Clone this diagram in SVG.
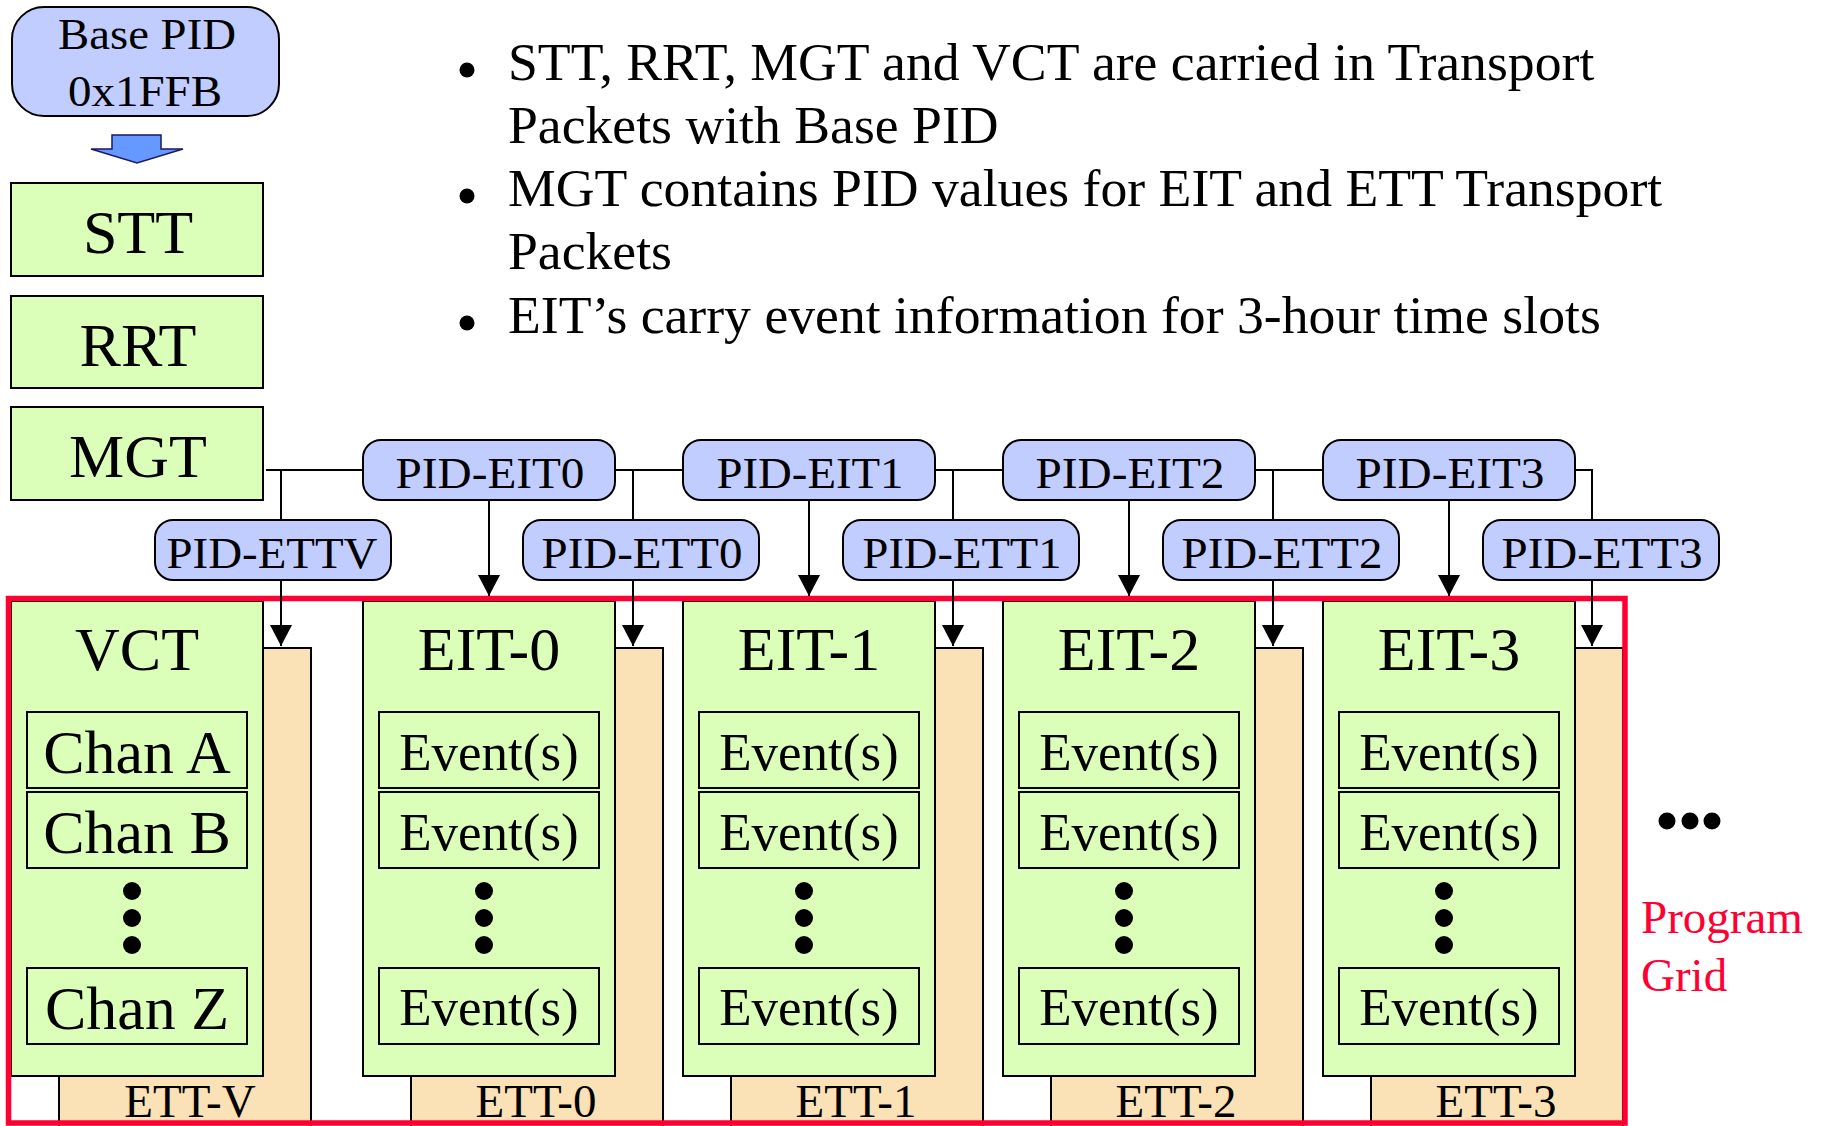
<svg xmlns="http://www.w3.org/2000/svg" width="1821" height="1126" viewBox="0 0 1821 1126">
<defs>
<style>
text { font-family: "Liberation Serif", "Times New Roman", serif; fill: #000; }
.blue { fill: #C2CDFF; stroke: #000; stroke-width: 2; }
.green { fill: #DBFEB8; stroke: #000; stroke-width: 2; }
.peach { fill: #FBE1B6; stroke: #000; stroke-width: 2; }
.inner { fill: none; stroke: #000; stroke-width: 2; }
.conn { fill: none; stroke: #000; stroke-width: 2; }
.mid { text-anchor: middle; }
.t62 { font-size: 62px; }
.t53 { font-size: 53px; }
.tb { font-size: 53.7px; }
.t47 { font-size: 47px; }
.t45 { font-size: 45px; }
.red { fill: #FF0033; }
.frame { fill: none; stroke: #FF0033; stroke-width: 5.5; }
</style>
<marker id="ah" viewBox="0 0 21 22" refX="21" refY="11" markerWidth="21" markerHeight="22" markerUnits="userSpaceOnUse" orient="auto">
<path d="M0,0 L21,11 L0,22 z" fill="#000"/>
</marker>
</defs>

<rect width="1821" height="1126" fill="#fff"/>

<!-- Base PID -->
<g id="base-pid">
<rect class="blue" x="12" y="7" width="267" height="109" rx="32"/>
<text class="mid t45" x="147" y="49" textLength="178" lengthAdjust="spacingAndGlyphs">Base PID</text>
<text class="mid t45" x="145" y="106" textLength="154" lengthAdjust="spacingAndGlyphs">0x1FFB</text>
</g>
<g id="base-arrow">
<polygon points="112,135 161,135 161,149 183,149 137,163 91,149 112,149" fill="#6699FF" stroke="#1a1a66" stroke-width="1.5"/>
</g>

<g id="stt"><rect class="green" x="11" y="183" width="252" height="93"/><text class="mid t62" x="138" y="253">STT</text></g>
<g id="rrt"><rect class="green" x="11" y="296" width="252" height="92"/><text class="mid t62" x="138" y="366">RRT</text></g>
<g id="mgt"><rect class="green" x="11" y="407" width="252" height="93"/><text class="mid t62" x="138" y="477">MGT</text></g>

<!-- Bullets -->
<g id="bullets">
<circle cx="467" cy="70" r="7.5"/>
<circle cx="467" cy="196" r="7.5"/>
<circle cx="467" cy="323" r="7.5"/>
<text class="tb" x="508" y="80">STT, RRT, MGT and VCT are carried in Transport</text>
<text class="tb" x="508" y="143">Packets with Base PID</text>
<text class="tb" x="508" y="206">MGT contains PID values for EIT and ETT Transport</text>
<text class="tb" x="508" y="269">Packets</text>
<text class="tb" x="508" y="333">EIT’s carry event information for 3-hour time slots</text>
</g>

<!-- PID labels -->
<g id="pid-eit0"><rect class="blue" x="363" y="440" width="252" height="60" rx="18"/><text class="mid t45" x="490" y="488" textLength="189" lengthAdjust="spacingAndGlyphs">PID-EIT0</text></g>
<g id="pid-eit1"><rect class="blue" x="683" y="440" width="252" height="60" rx="18"/><text class="mid t45" x="810" y="488" textLength="187" lengthAdjust="spacingAndGlyphs">PID-EIT1</text></g>
<g id="pid-eit2"><rect class="blue" x="1003" y="440" width="252" height="60" rx="18"/><text class="mid t45" x="1130" y="488" textLength="189" lengthAdjust="spacingAndGlyphs">PID-EIT2</text></g>
<g id="pid-eit3"><rect class="blue" x="1323" y="440" width="252" height="60" rx="18"/><text class="mid t45" x="1450" y="488" textLength="189" lengthAdjust="spacingAndGlyphs">PID-EIT3</text></g>

<g id="pid-ettv"><rect class="blue" x="155" y="520" width="236" height="60" rx="18"/><text class="mid t45" x="272" y="568" textLength="211" lengthAdjust="spacingAndGlyphs">PID-ETTV</text></g>
<g id="pid-ett0"><rect class="blue" x="523" y="520" width="236" height="60" rx="18"/><text class="mid t45" x="642" y="568" textLength="201" lengthAdjust="spacingAndGlyphs">PID-ETT0</text></g>
<g id="pid-ett1"><rect class="blue" x="843" y="520" width="236" height="60" rx="18"/><text class="mid t45" x="962" y="568" textLength="199" lengthAdjust="spacingAndGlyphs">PID-ETT1</text></g>
<g id="pid-ett2"><rect class="blue" x="1163" y="520" width="236" height="60" rx="18"/><text class="mid t45" x="1282" y="568" textLength="201" lengthAdjust="spacingAndGlyphs">PID-ETT2</text></g>
<g id="pid-ett3"><rect class="blue" x="1483" y="520" width="236" height="60" rx="18"/><text class="mid t45" x="1602" y="568" textLength="201" lengthAdjust="spacingAndGlyphs">PID-ETT3</text></g>

<!-- ETT tables (behind) -->
<g id="ett-v"><rect class="peach" x="59" y="648" width="252" height="495"/><text class="mid t47" x="190" y="1117">ETT-V</text></g>
<g id="ett-0"><rect class="peach" x="411" y="648" width="252" height="495"/><text class="mid t47" x="536" y="1117">ETT-0</text></g>
<g id="ett-1"><rect class="peach" x="731" y="648" width="252" height="495"/><text class="mid t47" x="856" y="1117">ETT-1</text></g>
<g id="ett-2"><rect class="peach" x="1051" y="648" width="252" height="495"/><text class="mid t47" x="1176" y="1117">ETT-2</text></g>
<g id="ett-3"><rect class="peach" x="1371" y="648" width="252" height="495"/><text class="mid t47" x="1496" y="1117">ETT-3</text></g>

<!-- VCT -->
<g id="vct">
<rect class="green" x="11" y="601" width="252" height="475"/>
<text class="mid t62" x="137" y="670">VCT</text>
<rect class="inner" x="27" y="712" width="220" height="76"/>
<text class="mid t62" x="137" y="773">Chan A</text>
<rect class="inner" x="27" y="792" width="220" height="76"/>
<text class="mid t62" x="137" y="853">Chan B</text>
<circle cx="132" cy="891" r="9"/><circle cx="132" cy="918" r="9"/><circle cx="132" cy="945" r="9"/>
<rect class="inner" x="27" y="968" width="220" height="76"/>
<text class="mid t62" x="137" y="1029">Chan Z</text>
</g>

<!-- EIT-0 -->
<g id="eit-0">
<rect class="green" x="363" y="601" width="252" height="475"/>
<text class="mid t62" x="489" y="670">EIT-0</text>
<rect class="inner" x="379" y="712" width="220" height="76"/>
<text class="mid t53" x="489" y="770">Event(s)</text>
<rect class="inner" x="379" y="792" width="220" height="76"/>
<text class="mid t53" x="489" y="850">Event(s)</text>
<circle cx="484" cy="891" r="9"/><circle cx="484" cy="918" r="9"/><circle cx="484" cy="945" r="9"/>
<rect class="inner" x="379" y="968" width="220" height="76"/>
<text class="mid t53" x="489" y="1025">Event(s)</text>
</g>

<!-- EIT-1 -->
<g id="eit-1">
<rect class="green" x="683" y="601" width="252" height="475"/>
<text class="mid t62" x="809" y="670">EIT-1</text>
<rect class="inner" x="699" y="712" width="220" height="76"/>
<text class="mid t53" x="809" y="770">Event(s)</text>
<rect class="inner" x="699" y="792" width="220" height="76"/>
<text class="mid t53" x="809" y="850">Event(s)</text>
<circle cx="804" cy="891" r="9"/><circle cx="804" cy="918" r="9"/><circle cx="804" cy="945" r="9"/>
<rect class="inner" x="699" y="968" width="220" height="76"/>
<text class="mid t53" x="809" y="1025">Event(s)</text>
</g>

<!-- EIT-2 -->
<g id="eit-2">
<rect class="green" x="1003" y="601" width="252" height="475"/>
<text class="mid t62" x="1129" y="670">EIT-2</text>
<rect class="inner" x="1019" y="712" width="220" height="76"/>
<text class="mid t53" x="1129" y="770">Event(s)</text>
<rect class="inner" x="1019" y="792" width="220" height="76"/>
<text class="mid t53" x="1129" y="850">Event(s)</text>
<circle cx="1124" cy="891" r="9"/><circle cx="1124" cy="918" r="9"/><circle cx="1124" cy="945" r="9"/>
<rect class="inner" x="1019" y="968" width="220" height="76"/>
<text class="mid t53" x="1129" y="1025">Event(s)</text>
</g>

<!-- EIT-3 -->
<g id="eit-3">
<rect class="green" x="1323" y="601" width="252" height="475"/>
<text class="mid t62" x="1449" y="670">EIT-3</text>
<rect class="inner" x="1339" y="712" width="220" height="76"/>
<text class="mid t53" x="1449" y="770">Event(s)</text>
<rect class="inner" x="1339" y="792" width="220" height="76"/>
<text class="mid t53" x="1449" y="850">Event(s)</text>
<circle cx="1444" cy="891" r="9"/><circle cx="1444" cy="918" r="9"/><circle cx="1444" cy="945" r="9"/>
<rect class="inner" x="1339" y="968" width="220" height="76"/>
<text class="mid t53" x="1449" y="1025">Event(s)</text>
</g>

<!-- Program grid frame -->
<g id="program-grid">
<rect class="frame" x="8.5" y="598.5" width="1616.5" height="524.5"/>
<text class="t47 red" x="1641" y="933">Program</text>
<text class="t47 red" x="1641" y="991">Grid</text>
</g>
<g id="more">
<circle cx="1667" cy="821" r="8.5"/><circle cx="1690" cy="821" r="8.5"/><circle cx="1712" cy="821" r="8.5"/>
</g>

<!-- Connectors -->
<g id="connectors" class="conn">
<path class="conn" d="M266,470 H363"/>
<path class="conn" d="M615,470 H683"/>
<path class="conn" d="M935,470 H1003"/>
<path class="conn" d="M1255,470 H1323"/>
<path class="conn" d="M1575,470 H1592 V520"/>
<path class="conn" d="M281,470 V520"/>
<path class="conn" d="M633,470 V520"/>
<path class="conn" d="M953,470 V520"/>
<path class="conn" d="M1273,470 V520"/>
<path class="conn" d="M281,580 V646" marker-end="url(#ah)"/>
<path class="conn" d="M633,580 V646" marker-end="url(#ah)"/>
<path class="conn" d="M953,580 V646" marker-end="url(#ah)"/>
<path class="conn" d="M1273,580 V646" marker-end="url(#ah)"/>
<path class="conn" d="M1592,580 V646" marker-end="url(#ah)"/>
<path class="conn" d="M489,500 V596" marker-end="url(#ah)"/>
<path class="conn" d="M809,500 V596" marker-end="url(#ah)"/>
<path class="conn" d="M1129,500 V596" marker-end="url(#ah)"/>
<path class="conn" d="M1449,500 V596" marker-end="url(#ah)"/>
</g>
</svg>
